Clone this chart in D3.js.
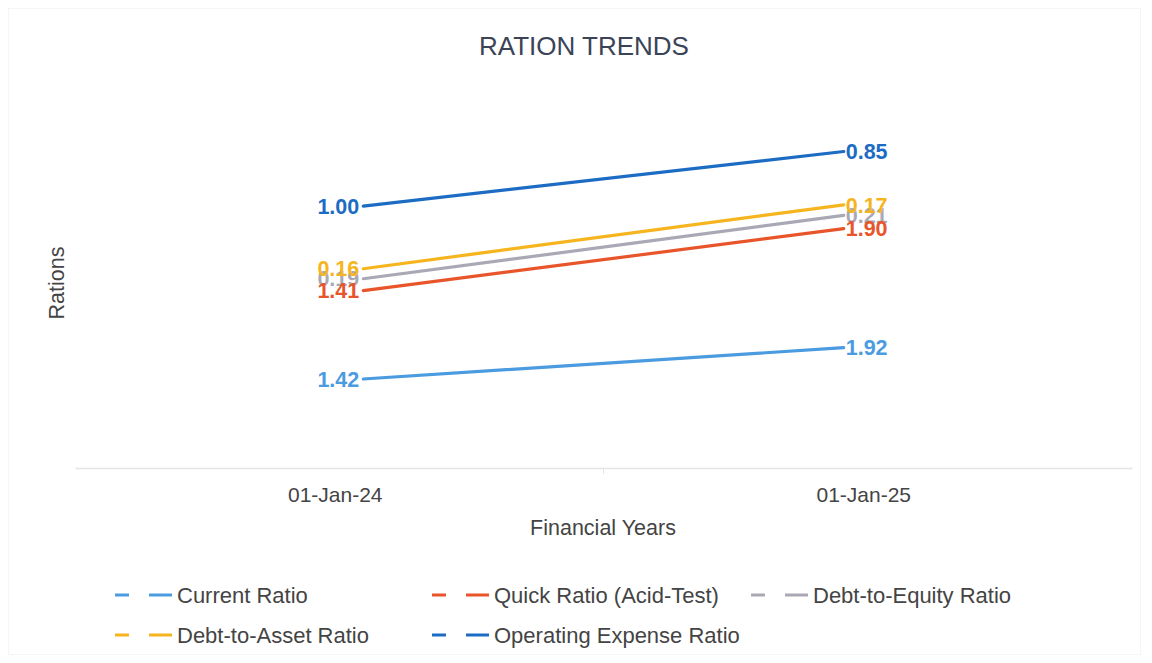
<!DOCTYPE html>
<html>
<head>
<meta charset="utf-8">
<script src="https://cdn.jsdelivr.net/npm/d3@7"></script>
<style>
  html, body { margin: 0; padding: 0; background: #fff; }
  svg { display: block; font-family: "Liberation Sans", Arial, sans-serif; }
</style>
</head>
<body>
<svg id="chart" width="1152" height="663"></svg>
<script>
// Financial years on the x axis
const years = ["01-Jan-24", "01-Jan-25"];

// Ratio values per year (series are stacked on top of each other)
const currentRatio = [1.42, 1.92];
const quickRatio = [1.41, 1.90];
const debtToEquity = [0.19, 0.21];
const debtToAsset = [0.16, 0.17];
const operatingExpense = [1.00, 0.85];

const seriesNames = ["Current Ratio", "Quick Ratio (Acid-Test)", "Debt-to-Equity Ratio", "Debt-to-Asset Ratio", "Operating Expense Ratio"];
const seriesValues = [currentRatio, quickRatio, debtToEquity, debtToAsset, operatingExpense];
const seriesColors = ["#4a9be0", "#e8552a", "#a9a9b6", "#f6b51e", "#1c6cc4"];

const yDomain = [0, 6];

const svg = d3.select("#chart");
const plot = { left: 75, right: 1132, top: 92, bottom: 468 };

// faint outer frame
svg.append("rect")
  .attr("x", 8.5).attr("y", 8.5).attr("width", 1132).attr("height", 646)
  .attr("fill", "none").attr("stroke", "#f5f5f5").attr("stroke-width", 1);

// Build stacked table
const table = years.map((y, i) => {
  const row = { year: y };
  seriesNames.forEach((n, k) => { row[n] = seriesValues[k][i]; });
  return row;
});
const stacked = d3.stack().keys(seriesNames)(table);

const xBand = d3.scaleBand().domain(years).range([plot.left, plot.right]).padding(0);
const xPoint = d3.scalePoint().domain(years).range([plot.left, plot.right]).padding(0.6);
const y = d3.scaleLinear().domain(yDomain).range([plot.bottom, plot.top]);

// Title
svg.append("text")
  .attr("x", 584).attr("y", 55)
  .attr("text-anchor", "middle")
  .attr("font-size", 26).attr("fill", "#3b4357")
  .text("RATION TRENDS");

// x axis
const xAxis = d3.axisBottom(xBand).tickSize(0).tickPadding(19);
const gx = svg.append("g").attr("transform", `translate(0,${plot.bottom})`).call(xAxis);
gx.select(".domain").attr("stroke", "#e4e4e4").attr("stroke-width", 1.5);
gx.selectAll(".tick text")
  .attr("font-size", 21).attr("fill", "#444")
  .attr("font-family", "'Liberation Sans', Arial, sans-serif")
  .attr("transform", "translate(-4,0)");
// band boundary tick
svg.append("line")
  .attr("x1", xBand(years[1])).attr("x2", xBand(years[1]))
  .attr("y1", plot.bottom).attr("y2", plot.bottom + 6)
  .attr("stroke", "#e4e4e4").attr("stroke-width", 1);

// axis titles
svg.append("text")
  .attr("x", 603).attr("y", 535)
  .attr("text-anchor", "middle")
  .attr("font-size", 21.5).attr("fill", "#444")
  .text("Financial Years");
svg.append("text")
  .attr("transform", "translate(64,283) rotate(-90)")
  .attr("text-anchor", "middle")
  .attr("font-size", 21.5).attr("fill", "#444")
  .text("Rations");

// Lines
const line = d3.line()
  .x(d => xPoint(d.data.year))
  .y(d => y(d[1]));

const gLines = svg.append("g");
stacked.forEach((s, k) => {
  gLines.append("path")
    .datum(s)
    .attr("d", line)
    .attr("fill", "none")
    .attr("stroke", seriesColors[k])
    .attr("stroke-width", 3.2)
    .attr("stroke-linecap", "round");
});

// Value labels
const gLabels = svg.append("g");
[2, 3, 0, 4, 1].forEach(k => {
  const s = stacked[k];
  s.forEach((d, i) => {
    gLabels.append("text")
      .attr("x", xPoint(d.data.year) + (i === 0 ? -4 : 2))
      .attr("y", y(d[1]))
      .attr("dy", "0.36em")
      .attr("text-anchor", i === 0 ? "end" : "start")
      .attr("font-size", 21.5).attr("font-weight", "bold")
      .attr("fill", seriesColors[k])
      .text(d3.format(".2f")(seriesValues[k][i]));
  });
});

// Legend
const legendPos = [
  [115, 595], [432, 595], [751, 595],
  [115, 635], [432, 635]
];
const gLegend = svg.append("g");
seriesNames.forEach((n, k) => {
  const [lx, ly] = legendPos[k];
  gLegend.append("line")
    .attr("x1", lx).attr("x2", lx + 57)
    .attr("y1", ly).attr("y2", ly)
    .attr("stroke", seriesColors[k]).attr("stroke-width", 3.2)
    .attr("stroke-dasharray", "14,20,23");
  gLegend.append("text")
    .attr("x", lx + 62).attr("y", ly)
    .attr("dy", "0.35em")
    .attr("font-size", 22).attr("fill", "#444")
    .text(n);
});
</script>
</body>
</html>
